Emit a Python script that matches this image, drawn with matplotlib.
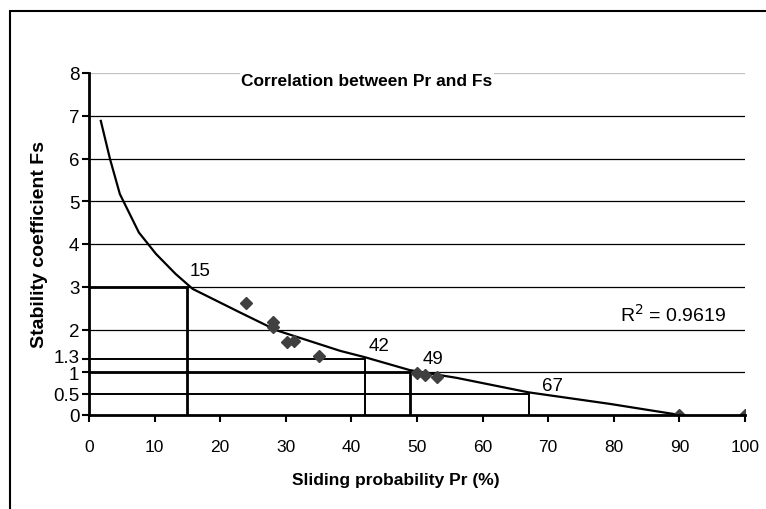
import matplotlib
matplotlib.use('Agg')
import matplotlib.pyplot as plt
import matplotlib.patches as mpatches
import matplotlib.transforms as mtransforms

plt.rcParams['font.family'] = ['Liberation Sans', 'DejaVu Sans']

# measured points (sliding probability %, stability coefficient)
prPoints = [24, 28, 28, 30.2, 31.2, 35, 50, 51.2, 53, 90, 100]
fsPoints = [2.62, 2.18, 2.05, 1.71, 1.72, 1.38, 0.98, 0.94, 0.89, 0.0, 0.0]

# trendline
trendPr = [1.8, 3.2, 4.7, 7.6, 10.2, 13.2, 15.8, 23.0, 28.6, 38.3, 42.1, 48.9, 52.0, 56.0, 67.0, 79.4, 83.5, 90.1]
trendFs = [6.88, 5.99, 5.17, 4.27, 3.77, 3.30, 2.95, 2.40, 1.98, 1.50, 1.35, 1.05, 0.97, 0.87, 0.53, 0.26, 0.16, 0.0]

# guide lines
guidePr = [15, 42, 49, 67]
guideFs = [3, 1.3, 1, 0.5]
guideLabels = ['15', '42', '49', '67']
guideLabelPos = [(16.9, 3.39), (44.2, 1.63), (52.5, 1.33), (70.7, 0.70)]

yTicks = [0, 0.5, 1, 1.3, 2, 3, 4, 5, 6, 7, 8]
yTickLabels = ['0', '0.5', '1', '1.3', '2', '3', '4', '5', '6', '7', '8']
xTicks = [0, 10, 20, 30, 40, 50, 60, 70, 80, 90, 100]
gridLevels = [1, 2, 3, 4, 5, 6, 7]

fig = plt.figure(figsize=(7.66, 5.10), dpi=100)
ax = fig.add_axes([89 / 766, 94 / 510, 656 / 766, 342 / 510])

for g in gridLevels:
    ax.axhline(g, color='black', lw=0.9, zorder=1)
ax.axhline(8, color='#c0c0c0', lw=0.9, zorder=1)

guideWidths = [2.0, 1.4, 2.0, 1.4]
for pr, fs, w in zip(guidePr, guideFs, guideWidths):
    ax.plot([0, pr, pr], [fs, fs, 0], color='black', lw=w, zorder=2, solid_joinstyle='miter')

ax.plot(trendPr, trendFs, color='black', lw=1.6, zorder=3)
ax.plot(prPoints, fsPoints, linestyle='none', marker='D', markersize=6,
        color='#404040', zorder=4)

for lab, (lx, ly) in zip(guideLabels, guideLabelPos):
    ax.text(lx, ly, lab, fontsize=13.5, ha='center', va='center')

ax.text(80.9, 2.36, 'R$^2$ = 0.9619', fontsize=14, ha='left', va='center')

ax.set_xlim(0, 100)
ax.set_ylim(0, 8)
ax.set_xticks(xTicks)
ax.set_yticks(yTicks)
ax.set_yticklabels(yTickLabels)
ax.tick_params(axis='both', direction='out', length=5, width=1.5, color='black')
ax.tick_params(axis='x', pad=12, labelsize=12.5)
ax.tick_params(axis='y', pad=2, labelsize=13.5)

# the 1.3 label sits a little above its tick, as in the original
lbl13 = ax.get_yticklabels()[3]
lbl13.set_transform(lbl13.get_transform() + mtransforms.ScaledTranslation(0, 4 / 100, fig.dpi_scale_trans))

for s in ['top', 'right']:
    ax.spines[s].set_visible(False)
for s in ['left', 'bottom']:
    ax.spines[s].set_linewidth(2)
    ax.spines[s].set_zorder(5)

ax.set_xlabel('Sliding probability Pr (%)', fontsize=12.5, fontweight='bold')
ax.set_ylabel('Stability coefficient Fs', fontsize=14, fontweight='bold')
ax.xaxis.set_label_coords((396 - 89) / 656, (416 - 473) / 342)
ax.yaxis.set_label_coords((48 - 89) / 656, 0.5)

fig.text(367 / 766, 1 - 81 / 510, 'Correlation between Pr and Fs', fontsize=12.5, fontweight='bold',
         ha='center', va='center', bbox=dict(facecolor='white', edgecolor='none', pad=1), zorder=10)

fig.add_artist(mpatches.Rectangle((10 / 766, -0.1), 2, 1 - 12 / 510 + 0.1, transform=fig.transFigure,
                                  fill=False, lw=1.5, edgecolor='black'))

fig.savefig('out.png', dpi=100)
